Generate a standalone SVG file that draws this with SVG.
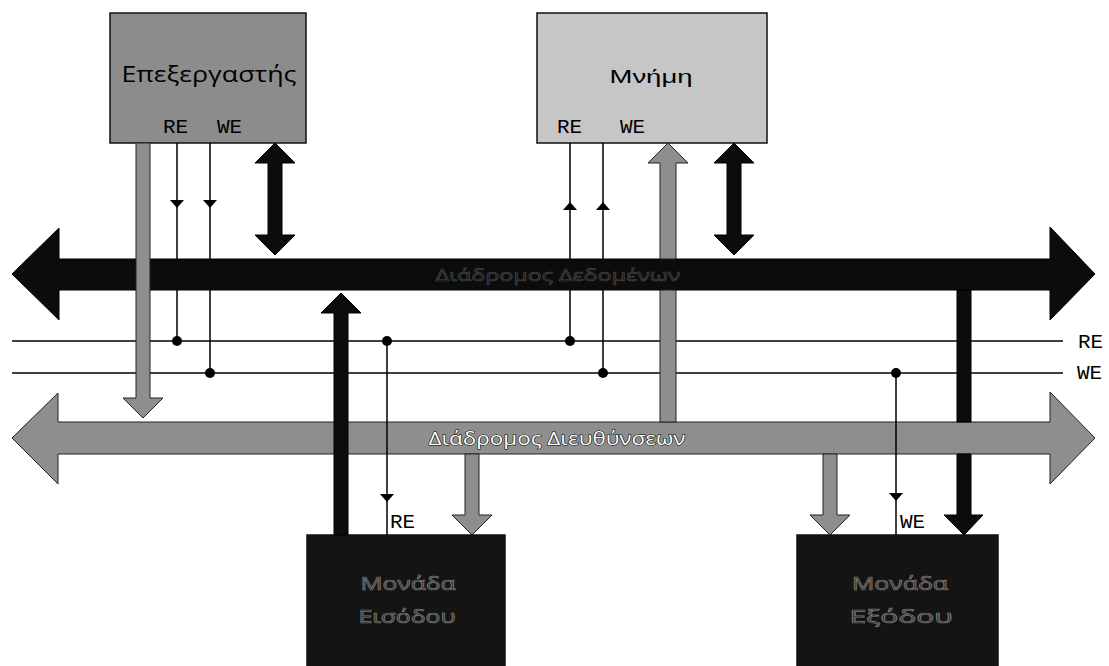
<svg xmlns="http://www.w3.org/2000/svg" width="1109" height="666" viewBox="0 0 1109 666">
<style>
.box{stroke:#111;stroke-width:1.5}
.gray{fill:#8e8e8e;stroke:#222;stroke-width:1}
.black{fill:#0c0c0c;stroke:#000;stroke-width:1}
.ctl{stroke:#000;stroke-width:1.5;fill:none}
.dot{fill:#000}
.tri{fill:#000}
.mono{font-family:"Liberation Mono","Courier New",monospace;font-size:21px;fill:#000}
.lbl{font-family:"Open Sans","DejaVu Sans",sans-serif}
.dark{font-family:"Open Sans","DejaVu Sans",sans-serif;font-size:18px;fill:#2a2a2a;stroke:#7a7a7a;stroke-width:0.7}
</style>
<rect width="1109" height="666" fill="#fff"/>
<g id="data-bus">
<polygon class="black" points="12,274 59,228 59,259 1050,259 1050,227 1095,274 1050,320 1050,290 59,290 59,320"/>
<text class="lbl" x="558" y="281" text-anchor="middle" font-size="17" textLength="245" lengthAdjust="spacingAndGlyphs" fill="#161616" stroke="#484848" stroke-width="0.6">Διάδρομος Δεδομένων</text>
</g>
<g id="address-bus">
<polygon class="gray" fill="#8a8a8a" stroke="#111" points="12,438 58,393 58,422 1050,422 1050,392 1095,438 1050,484 1050,454 58,454 58,484"/>
<text class="lbl" x="557" y="445" text-anchor="middle" font-size="18" textLength="257" lengthAdjust="spacingAndGlyphs" fill="#fff" stroke="#000" stroke-width="1" paint-order="stroke">Διάδρομος Διευθύνσεων</text>
</g>
<g id="processor">
<rect class="box" x="110" y="13" width="196" height="130" fill="#8c8c8c"/>
<text class="lbl" x="209" y="82" text-anchor="middle" font-size="21" textLength="175" lengthAdjust="spacingAndGlyphs" fill="#000">Επεξεργαστής</text>
<text class="mono" x="163" y="133">RE</text>
<text class="mono" x="217" y="133">WE</text>
</g>
<g id="memory">
<rect class="box" x="537" y="13" width="230" height="130" fill="#c6c6c6"/>
<text x="651" y="83" text-anchor="middle" font-family="Liberation Sans, Arial, sans-serif" font-size="19" textLength="83" lengthAdjust="spacingAndGlyphs" fill="#000">Μνήμη</text>
<text class="mono" x="557" y="133">RE</text>
<text class="mono" x="620" y="133">WE</text>
</g>
<g id="input-unit">
<rect class="box" x="307" y="535" width="198" height="140" fill="#141414"/>
<text class="dark" x="408" y="590" text-anchor="middle" textLength="95" lengthAdjust="spacingAndGlyphs">Μονάδα</text>
<text class="dark" x="407" y="623" text-anchor="middle" textLength="97" lengthAdjust="spacingAndGlyphs">Εισόδου</text>
</g>
<g id="output-unit">
<rect class="box" x="797" y="535" width="201" height="140" fill="#141414"/>
<text class="dark" x="900" y="590" text-anchor="middle" textLength="96" lengthAdjust="spacingAndGlyphs">Μονάδα</text>
<text class="dark" x="901" y="623" text-anchor="middle" textLength="103" lengthAdjust="spacingAndGlyphs">Εξόδου</text>
</g>
<g id="labels">
<text class="mono" x="1078" y="348">RE</text>
<text class="mono" x="1077" y="379">WE</text>
<text class="mono" x="390" y="528">RE</text>
<text class="mono" x="900" y="528">WE</text>
</g>
<g id="connectors">
<line class="ctl" x1="12" y1="341" x2="1063" y2="341"/>
<line class="ctl" x1="12" y1="373" x2="1063" y2="373"/>
<line class="ctl" x1="177" y1="143" x2="177" y2="259"/>
<line class="ctl" x1="177" y1="290" x2="177" y2="341"/>
<polygon class="tri" points="170,200 184,200 177,208"/>
<circle class="dot" cx="177" cy="341" r="5"/>
<line class="ctl" x1="210" y1="143" x2="210" y2="259"/>
<line class="ctl" x1="210" y1="290" x2="210" y2="373"/>
<polygon class="tri" points="203,200 217,200 210,208"/>
<circle class="dot" cx="210" cy="373" r="5"/>
<line class="ctl" x1="570" y1="143" x2="570" y2="259"/>
<line class="ctl" x1="570" y1="290" x2="570" y2="341"/>
<polygon class="tri" points="563,210 577,210 570,202"/>
<circle class="dot" cx="570" cy="341" r="5"/>
<line class="ctl" x1="603" y1="143" x2="603" y2="259"/>
<line class="ctl" x1="603" y1="290" x2="603" y2="373"/>
<polygon class="tri" points="596,210 610,210 603,202"/>
<circle class="dot" cx="603" cy="373" r="5"/>
<line class="ctl" x1="387" y1="341" x2="387" y2="535"/>
<polygon class="tri" points="380,494 394,494 387,502"/>
<circle class="dot" cx="387" cy="341" r="5"/>
<line class="ctl" x1="896" y1="373" x2="896" y2="535"/>
<polygon class="tri" points="889,493 903,493 896,501"/>
<circle class="dot" cx="896" cy="373" r="5"/>
<polygon class="black" points="275,143 295,163 282,163 282,235 295,235 275,255 255,235 268,235 268,163 255,163"/>
<polygon class="black" points="734,143 754,163 741,163 741,235 754,235 734,255 714,235 727,235 727,163 714,163"/>
<polygon class="gray" fill="#999" points="136,143 150,143 150,398 163,398 143,418 123,398 136,398"/>
<polygon class="gray" fill="#8a8a8a" points="668,143 688,163 676,163 676,259 660,259 660,163 648,163"/>
<rect class="gray" fill="#8a8a8a" x="660" y="290" width="16" height="132"/>
<polygon class="black" points="341,293 361,313 348,313 348,535 334,535 334,313 321,313"/>
<polygon class="gray" fill="#7e7e7e" points="465,454 479,454 479,515 492,515 472,535 452,515 465,515"/>
<polygon class="gray" fill="#7e7e7e" points="823,454 837,454 837,515 850,515 830,535 810,515 823,515"/>
<rect class="black" x="957" y="290" width="14" height="132"/>
<polygon class="black" points="957,454 971,454 971,515 983,515 964,535 944,515 957,515"/>
</g>
</svg>
